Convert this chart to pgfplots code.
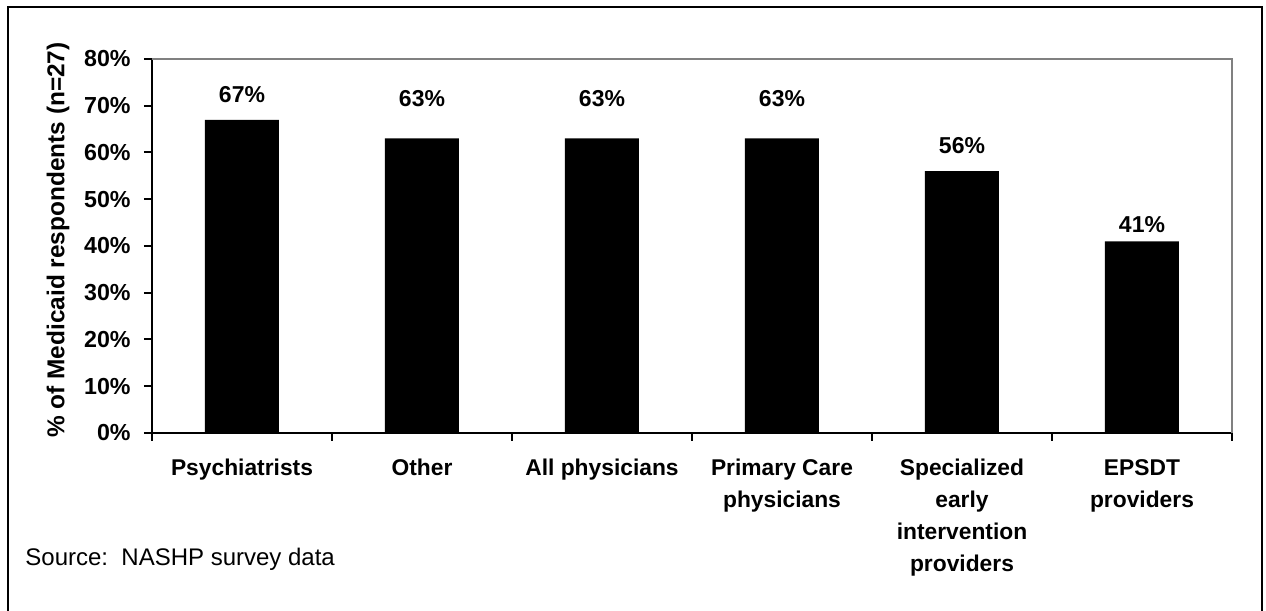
\documentclass[border=0pt]{standalone}
\usepackage{pgfplots}
\pgfplotsset{compat=1.18}
\usepackage{fontspec}
\setmainfont{Liberation Sans}
\begin{document}
\begin{tikzpicture}[x=1pt,y=1pt]
\path[use as bounding box] (0,0) rectangle (633,305.5);
\draw[line width=1pt] (4,0) -- (4,302) -- (631,302) -- (631,0);
\begin{axis}[
  at={(76pt,89pt)}, anchor=south west,
  scale only axis, width=540pt, height=187pt,
  xmin=-0.5, xmax=5.5, ymin=0, ymax=80,
  axis lines=left, axis line style={-, line width=1pt, black},
  xtick={0,1,2,3,4,5},
  xticklabels={Psychiatrists, Other, All physicians, Primary Care\\physicians, Specialized\\early\\intervention\\providers, EPSDT\\providers},
  minor xtick={-0.5,0.5,1.5,2.5,3.5,4.5,5.5},
  major x tick style={draw=none},
  minor x tick style={line width=1pt, black},
  major y tick style={line width=1pt, black},
  tick align=outside,
  major tick length=4pt, minor tick length=4pt,
  ytick={0,10,20,30,40,50,60,70,80},
  yticklabels={0\%,10\%,20\%,30\%,40\%,50\%,60\%,70\%,80\%},
  x tick label style={font=\fontsize{11.4}{16}\selectfont\bfseries, align=center, anchor=north, inner sep=0pt, yshift=-9pt},
  y tick label style={font=\fontsize{11.6}{13}\selectfont\bfseries, anchor=east, inner sep=0pt, xshift=-6.5pt},
  ylabel={\% of Medicaid respondents (n=27)},
  every axis y label/.style={at={(axis description cs:-0.087,0.516)}, rotate=90, anchor=center, font=\fontsize{12.2}{14}\selectfont\bfseries},
  clip=false,
]
\draw[line width=1pt, gray] (rel axis cs:0,1) -- (rel axis cs:1,1) -- (rel axis cs:1,0);
\addplot[ybar, bar shift=0pt, bar width=37pt, fill=black, draw=none] coordinates {
  (0,67) (1,63) (2,63) (3,63) (4,56) (5,41)
};
\addplot[draw=none, mark=none, nodes near coords, point meta=explicit symbolic,
  every node near coord/.append style={anchor=base, inner sep=0pt, font=\fontsize{11.5}{13}\selectfont\bfseries}] coordinates {
  (0,70.6) [67\%]
  (1,69.9) [63\%]
  (2,69.9) [63\%]
  (3,69.9) [63\%]
  (4,59.7) [56\%]
  (5,42.8) [41\%]
};
\end{axis}
\node[anchor=base west, inner sep=0pt, font=\fontsize{12}{14}\selectfont] at (12.5,22.5) {Source:\ \ NASHP survey data};
\end{tikzpicture}
\end{document}
